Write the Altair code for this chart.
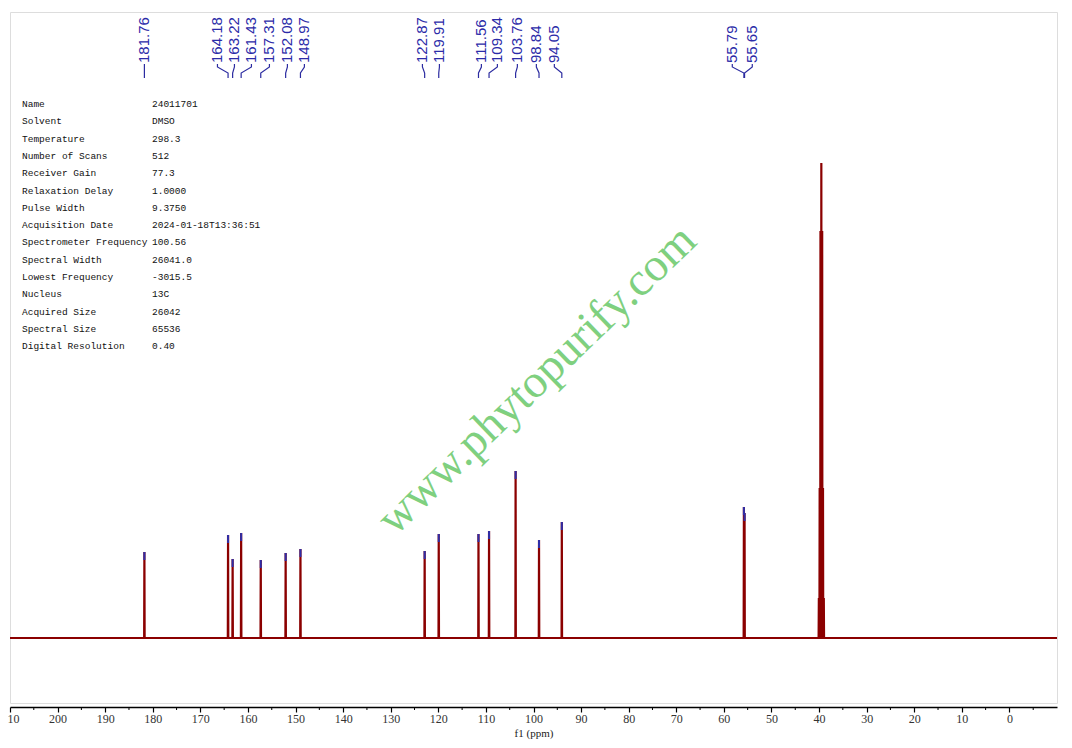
import altair as alt
import pandas as pd

# ---- data ----
peak_ppm = [181.76, 164.18, 163.22, 161.43, 157.31, 152.08, 148.97,
            122.87, 119.91, 111.56, 109.34, 103.76, 98.84, 94.05, 55.79, 55.65]
peak_height = [86, 103, 79, 105, 78, 85, 89,
               87, 104, 104, 107, 167, 98, 116, 131, 125]
# text position (in ppm) of each rotated label at the top
label_ppm = [181.76, 166.41, 162.84, 159.27, 155.49, 151.71, 148.14,
             123.34, 119.77, 110.95, 107.59, 103.39, 99.40, 95.62, 58.23, 54.03]
label_text = ["181.76", "164.18", "163.22", "161.43", "157.31", "152.08", "148.97",
              "122.87", "119.91", "111.56", "109.34", "103.76", "98.84", "94.05",
              "55.79", "55.65"]
# DMSO-d6 solvent multiplet
solvent_ppm = [40.04, 39.87, 39.70, 39.52, 39.34, 39.17, 39.00]
solvent_height = [40, 150, 407, 475, 407, 150, 40]

info_names = ["Name", "Solvent", "Temperature", "Number of Scans", "Receiver Gain",
              "Relaxation Delay", "Pulse Width", "Acquisition Date",
              "Spectrometer Frequency", "Spectral Width", "Lowest Frequency",
              "Nucleus", "Acquired Size", "Spectral Size", "Digital Resolution"]
info_values = ["24011701", "DMSO", "298.3", "512", "77.3", "1.0000", "9.3750",
               "2024-01-18T13:36:51", "100.56", "26041.0", "-3015.5", "13C",
               "26042", "65536", "0.40"]

major_ticks = list(range(210, -1, -10))
minor_ticks = list(range(205, -10, -10))

# ---- build tables ----
x_lo, x_hi = 210, -10
halfw = 0.05
all_peaks = sorted(list(zip(peak_ppm, peak_height)) + list(zip(solvent_ppm, solvent_height)),
                   key=lambda t: -t[0])
pts = [(x_lo, 0)]
for p, h in all_peaks:
    pts += [(p + halfw, 0), (p, h), (p - halfw, 0)]
pts.append((x_hi, 0))
spec = pd.DataFrame({"ppm": [a for a, _ in pts], "I": [b for _, b in pts],
                     "i": list(range(len(pts)))})

markers = pd.DataFrame({"ppm": peak_ppm, "top": peak_height,
                        "bot": [h - 8 for h in peak_height]})

conn_levels = [574, 571, 565, 560]
rows = []
for k, (lp, pp) in enumerate(zip(label_ppm, peak_ppm)):
    xs = [lp, lp, pp, pp]
    for s in range(4):
        rows.append({"lab": k, "step": s, "ppm": xs[s], "I": conn_levels[s]})
conn = pd.DataFrame(rows)

labels = pd.DataFrame({"ppm": label_ppm, "t": label_text})
minor = pd.DataFrame({"ppm": minor_ticks})

xscale = alt.Scale(domain=[x_lo, x_hi], nice=False, zero=False)
yscale = alt.Scale(domain=[-65, 626], nice=False, zero=False)

xaxis = alt.Axis(values=major_ticks, title="f1 (ppm)", offset=4, grid=False,
                 domainColor="#000000", domainWidth=1.5, tickColor="#000000",
                 tickSize=5, tickWidth=1.2, labelFont="Liberation Serif",
                 labelFontSize=12, labelColor="#333333", labelPadding=1,
                 titleFont="Liberation Serif", titleFontSize=11,
                 titleFontWeight="normal", titleColor="#222222", titlePadding=3,
                 labelFlush=False)

base_x = alt.X("ppm:Q", scale=xscale, axis=xaxis)

spectrum = alt.Chart(spec).mark_line(color="#8b0000", strokeWidth=2.2, clip=True).encode(
    x=base_x,
    y=alt.Y("I:Q", scale=yscale, axis=None),
    order="i:Q",
)

mark_layer = alt.Chart(markers).mark_rule(color="#2e2ea8", strokeWidth=2).encode(
    x=alt.X("ppm:Q", scale=xscale),
    y=alt.Y("top:Q", scale=yscale),
    y2="bot:Q",
)

conn_layer = alt.Chart(conn).mark_line(color="#2b2ba0", strokeWidth=1.2).encode(
    x=alt.X("ppm:Q", scale=xscale),
    y=alt.Y("I:Q", scale=yscale),
    detail="lab:N",
    order="step:Q",
)

label_layer = alt.Chart(labels).mark_text(
    angle=270, align="left", baseline="middle", font="Liberation Sans",
    fontSize=15, color="#2b2ba8"
).encode(
    x=alt.X("ppm:Q", scale=xscale),
    y=alt.value(51),
    text="t:N",
)

minor_layer = alt.Chart(minor).mark_rule(color="#000000", strokeWidth=1).encode(
    x=alt.X("ppm:Q", scale=xscale),
    y=alt.value(695),
    y2=alt.value(698),
)

one = pd.DataFrame({"a": [0]})
info_left = alt.Chart(one).mark_text(
    text=info_names, align="left", baseline="top", font="Liberation Mono",
    fontSize=9.5, lineHeight=17.3, color="#111111"
).encode(x=alt.value(12), y=alt.value(87))
info_right = alt.Chart(one).mark_text(
    text=info_values, align="left", baseline="top", font="Liberation Mono",
    fontSize=9.5, lineHeight=17.3, color="#111111"
).encode(x=alt.value(142), y=alt.value(87))

watermark = alt.Chart(one).mark_text(
    text="www.phytopurify.com", angle=316, align="center", baseline="middle",
    font="Liberation Serif", fontSize=47, color="#7fd07f"
).encode(x=alt.value(527), y=alt.value(368))

chart = alt.layer(
    watermark, spectrum, mark_layer, conn_layer, label_layer, minor_layer,
    info_left, info_right
).properties(
    width=1047, height=691,
    autosize=alt.AutoSizeParams(type="none"),
    padding={"left": 2, "top": 4, "right": 7, "bottom": 40},
).configure_view(
    stroke="#c8c8c8", strokeWidth=2
).configure(background="white")

chart.save("out.html", embed_options={"renderer": "svg", "actions": False})
